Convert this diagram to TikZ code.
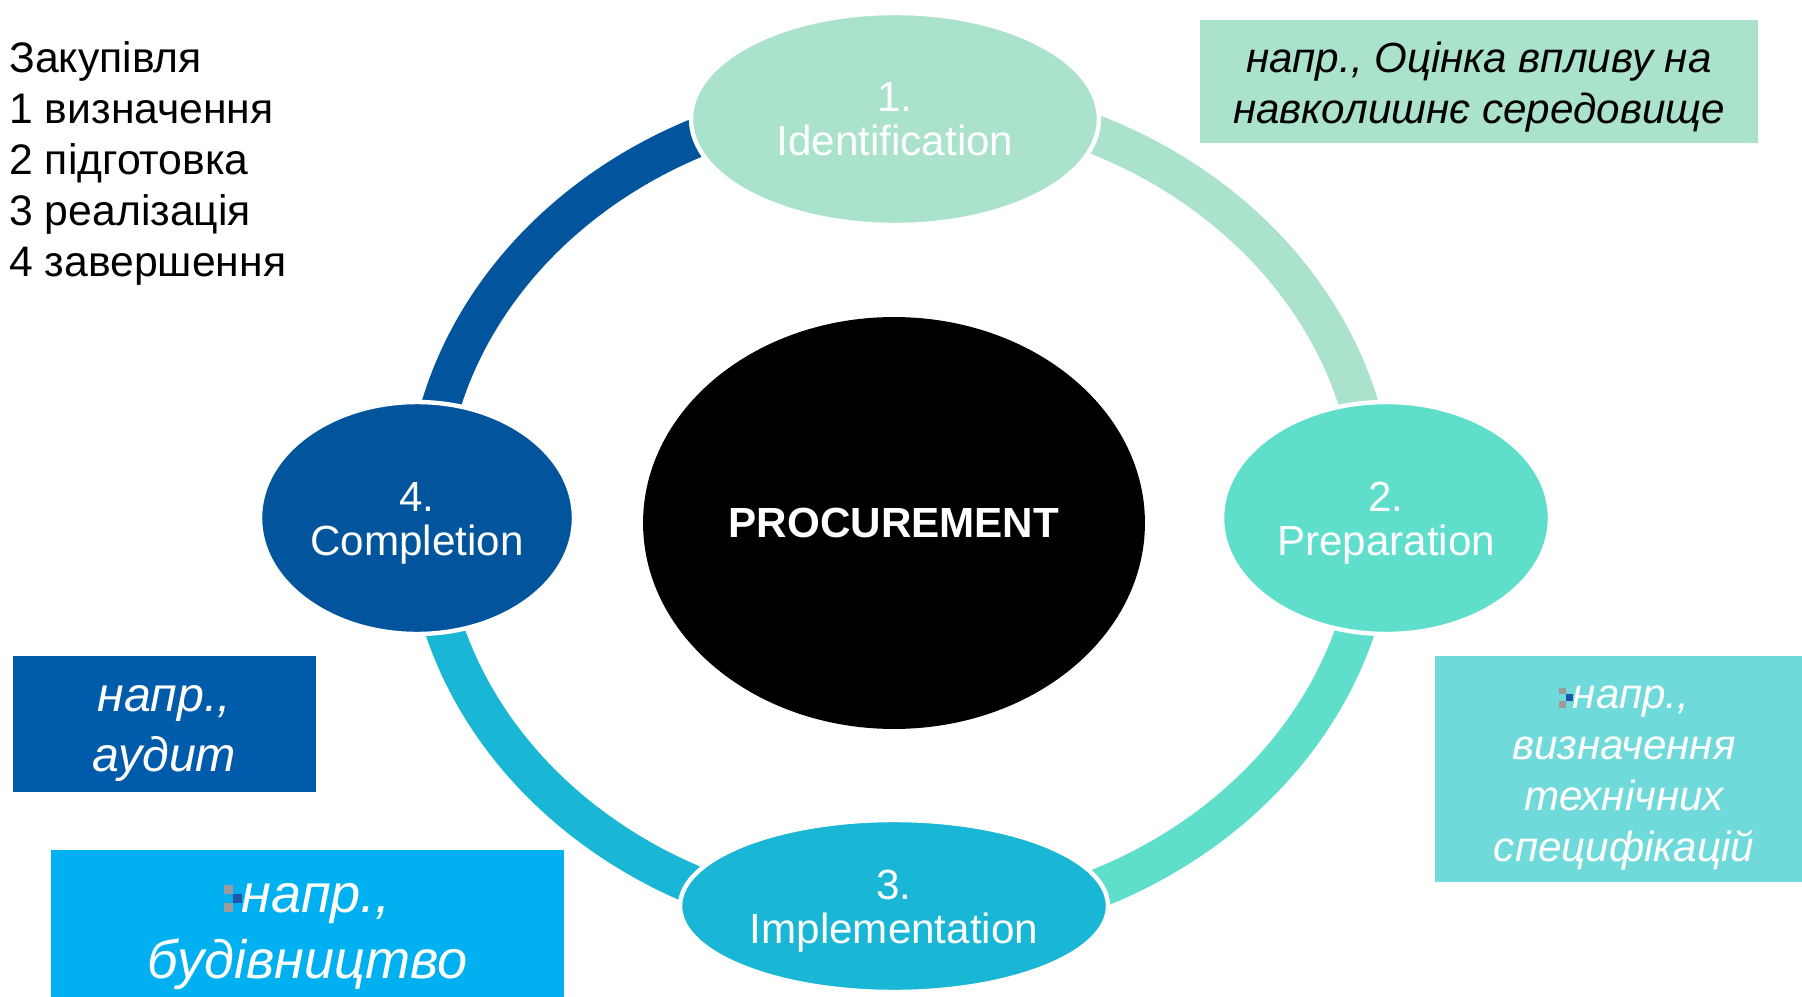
\documentclass[tikz,border=0pt]{standalone}
\usepackage{fontspec}
\setmainfont{Liberation Sans}
\usepackage{tikz}
\usetikzlibrary{shapes.geometric}

\definecolor{stepone}{HTML}{ABE2CB}
\definecolor{steptwo}{HTML}{5FDECC}
\definecolor{stepthree}{HTML}{1AB6D6}
\definecolor{stepfour}{HTML}{02559C}
\definecolor{notetwo}{HTML}{70DADB}
\definecolor{notefour}{HTML}{005BAA}
\definecolor{notethree}{HTML}{00B0F0}
\definecolor{markgray}{HTML}{9B9B9B}
\definecolor{markblue}{HTML}{1F56A8}

\newcommand{\bulletmark}{%
  \textcolor{markgray}{\rule{0.165em}{0.165em}}\llap{\textcolor{markgray}{\rule[0.33em]{0.165em}{0.165em}}}%
  \textcolor{markblue}{\rule[0.165em]{0.165em}{0.165em}}}
\newcommand{\lift}[1]{\rule{0pt}{#1}}

\begin{document}
\begin{tikzpicture}[x=0.02cm,y=0.02cm]
  \tikzset{ring/.style = {line width=0.78cm}}
  \tikzset{stage/.style = {shape=ellipse,draw=white,line width=2.5pt,inner sep=0pt,text=white,align=center,font=\fontsize{24}{25}\selectfont}}
  \tikzset{core/.style = {shape=ellipse,fill=black,inner sep=0pt,text=white,font=\fontsize{24}{25}\selectfont\bfseries}}
  \tikzset{note/.style = {shape=rectangle,inner sep=0pt,align=center,font=\fontsize{24}{29}\selectfont\itshape}}

  \useasboundingbox (0,0) rectangle (1802,-997);

  \coordinate (RC) at (900,-512);
  \foreach \from/\to/\col in {0/90/stepone, -90/0/steptwo, -180/-90/stepthree, 90/180/stepfour}
    \draw[ring,draw=\col] (RC) ++(\from:475 and 414) arc[start angle=\from, end angle=\to, x radius=475, y radius=414];

  \node[core,minimum width=10.04cm,minimum height=8.24cm] (PC) at (894,-523) {PROCUREMENT};
  \node[stage,fill=stepone,minimum width=8.16cm,minimum height=4.24cm] (ID) at (895,-119) {1.\\Identification};
  \node[stage,fill=steptwo,minimum width=6.56cm,minimum height=4.64cm] (PR) at (1386,-518) {\lift{22.4pt}2.\\Preparation};
  \node[stage,fill=stepthree,minimum width=8.56cm,minimum height=3.44cm] (IM) at (894,-906) {\lift{22.4pt}3.\\Implementation};
  \node[stage,fill=stepfour,minimum width=6.28cm,minimum height=4.64cm] (CO) at (417,-518) {\lift{22.4pt}4.\\Completion};

  \node[anchor=north west,align=left,inner sep=0pt,font=\fontsize{24.3}{29}\selectfont] (LG) at (9,-41)
    {Закупівля\\1 визначення\\2 підготовка\\3 реалізація\\4 завершення};

  \node[note,fill=stepone,minimum width=11.16cm,minimum height=2.46cm] (NID) at (1479,-81.5)
    {\lift{23.5pt}напр., Оцінка впливу на\\навколишнє середовище};
  \node[note,fill=notetwo,text=white,minimum width=7.56cm,minimum height=4.52cm] (NPR) at (1624,-769)
    {\lift{23pt}\bulletmark напр.,\\визначення\\технічних\\специфікацій};
  \node[note,fill=notefour,text=white,minimum width=6.06cm,minimum height=2.72cm,font=\fontsize{27.5}{34}\selectfont\itshape] (NCO) at (164.5,-724)
    {\lift{25.5pt}напр.,\\аудит};
  \node[note,fill=notethree,text=white,minimum width=10.26cm,minimum height=3.32cm,font=\fontsize{30.8}{38}\selectfont\itshape] (NIM) at (307.5,-933)
    {\lift{20.6pt}\bulletmark напр.,\\будівництво};
\end{tikzpicture}
\end{document}
